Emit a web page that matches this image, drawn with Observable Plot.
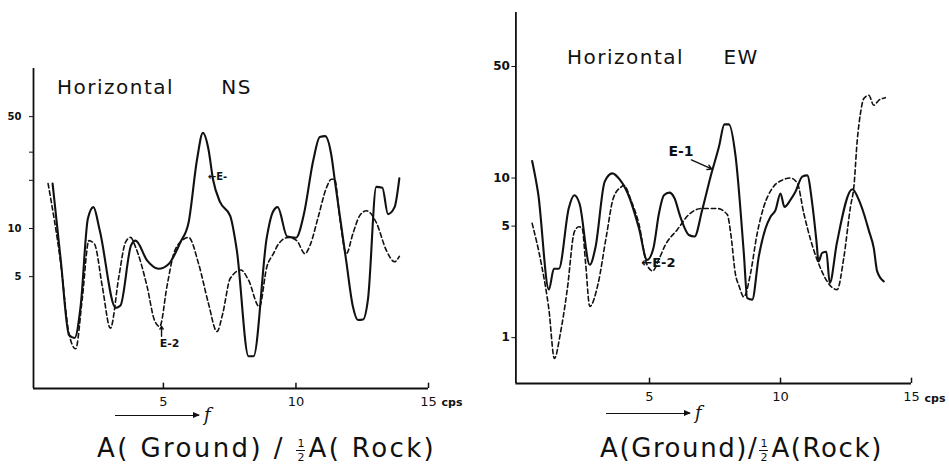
<!DOCTYPE html>
<html>
<head>
<meta charset="utf-8">
<script src="https://cdn.jsdelivr.net/npm/d3@7"></script>
<script src="https://cdn.jsdelivr.net/npm/@observablehq/plot@0.6"></script>
<style>
  html, body { margin: 0; padding: 0; background: #fff; }
  #wrap { position: relative; width: 949px; height: 468px; background: #fff; overflow: hidden;
          font-family: "DejaVu Sans", sans-serif; color: #111; }
  .panel { position: absolute; top: 0; }
  .title { position: absolute; font-size: 20px; letter-spacing: 1.5px; line-height: 20px; white-space: pre; }
  .cap { position: absolute; font-size: 26px; line-height: 26px; white-space: pre; }
  .frac { display: inline-flex; flex-direction: column; align-items: center; font-size: 11px; line-height: 13px;
          vertical-align: 10px; margin: 0 3px 0 1px; letter-spacing: 0; }
  .frac span { display: block; }
  .frac span:first-child { border-bottom: 1.5px solid #111; padding: 0 1px; }
  .farrow { position: absolute; font-size: 16px; line-height: 16px; white-space: pre; }
  .farrow i { display: inline-block; width: 84px; height: 0; border-top: 1.5px solid #111; vertical-align: 5px; position: relative; }
  .farrow i::after { content: ""; position: absolute; right: -1px; top: -4.5px; border-left: 7px solid #111;
          border-top: 3.5px solid transparent; border-bottom: 3.5px solid transparent; }
  .farrow em { font-style: italic; font-family: "DejaVu Serif", serif; font-size: 18px; }
</style>
</head>
<body>
<div id="wrap">
  <div class="title" style="left:57px; top:77px;">Horizontal      NS</div>
  <div class="title" style="left:567px; top:47px;">Horizontal     EW</div>
  <div class="farrow" style="left:115px; top:407px;"><i></i> <em>f</em></div>
  <div class="farrow" style="left:606px; top:405px;"><i></i> <em>f</em></div>
  <div class="cap" style="left:97px; top:435px; letter-spacing:2.4px;">A( Ground) / <span class="frac"><span>1</span><span>2</span></span>A( Rock)</div>
  <div class="cap" style="left:600px; top:435px; letter-spacing:1.6px;">A(Ground)/<span class="frac"><span>1</span><span>2</span></span>A(Rock)</div>
</div>
<script>
// ---------- data ----------
const xTicks = [5, 10, 15];
const nsYTicks = [5, 10, 50];
const nsYMinor = [20, 30];
const ewYTicks = [1, 5, 10, 50];

// Horizontal NS, E-1 (solid)
const nsE1F = [0.82,1.13,1.44,1.65,1.88,2.15,2.36,2.6,3.2,3.38,3.78,3.95,4.39,4.82,5.2,5.64,5.95,6.27,6.49,6.7,6.87,7.14,7.52,7.77,8.21,8.4,8.9,9.12,9.31,9.67,10.0,10.3,10.65,10.9,11.1,11.34,11.46,11.9,12.15,12.34,12.53,12.72,13.03,13.26,13.47,13.72,13.9];
const nsE1V = [19.1,6.3,2.16,2.07,3.3,11.5,13.6,9.7,3.19,3.3,7.84,8.4,6.3,5.6,6.0,8.2,10.9,27.1,39.6,31.3,20.3,14.6,12.0,7.3,1.59,1.59,8.8,12.6,13.6,8.9,8.75,12.3,26.5,37.3,37.8,28.4,20.3,6.2,3.24,2.68,2.7,3.65,18.2,18,12.3,13.6,20.6];
// Horizontal NS, E-2 (dashed)
const nsE2F = [0.65,1.13,1.44,1.69,1.94,2.19,2.4,2.7,3.0,3.32,3.57,3.76,3.95,4.39,4.66,4.86,5.14,5.39,5.7,5.95,6.33,6.7,7.02,7.24,7.52,7.92,8.21,8.62,8.9,9.15,9.34,9.71,10.03,10.34,10.53,10.84,11.13,11.34,11.46,11.65,11.9,12.15,12.4,12.66,13.03,13.41,13.72,13.9];
const nsE2V = [19.1,6.0,2.2,1.77,3.65,8.4,8.0,4.3,2.38,5.0,8.2,8.8,7.65,4.3,2.68,2.44,4.4,6.96,8.4,8.8,6.0,3.4,2.27,2.95,4.87,5.5,4.76,3.24,5.75,6.96,8.0,8.8,8.4,6.96,7.84,11.8,17.6,20.3,20.3,11.8,6.96,9.3,12.0,12.9,10.9,7.3,6.2,6.7];

// Horizontal EW, E-1 (solid)
const ewE1F = [0.52,0.75,1.16,1.35,1.54,1.92,2.13,2.33,2.72,2.94,3.29,3.58,3.86,4.24,4.59,4.91,5.15,5.36,5.55,5.76,5.95,6.18,6.5,6.72,7.01,7.33,7.65,7.86,8.03,8.28,8.6,8.73,8.92,9.17,9.43,9.62,9.81,10.0,10.15,10.38,10.57,10.83,11.02,11.21,11.38,11.45,11.59,11.75,11.88,12.15,12.74,12.99,13.18,13.37,13.56,13.69,13.94];
const ewE1V = [12.8,8.0,2.0,2.7,2.7,6.5,7.8,6.9,2.86,3.7,9.5,10.7,9.8,7.5,4.9,3.07,3.65,6.0,7.8,8.1,7.5,5.7,4.4,4.3,6.3,10.2,15.7,21.7,21.7,13.9,3.38,1.77,1.73,3.22,4.85,5.73,6.3,8.0,6.6,7.3,8.2,10.2,10.4,6.95,3.9,3.0,3.4,3.45,2.2,3.9,8.5,7.3,6.0,4.7,3.64,2.6,2.25];
// Horizontal EW, E-2 (dashed)
const ewE2F = [0.52,0.87,1.16,1.37,1.6,1.86,2.13,2.3,2.43,2.56,2.72,3.03,3.35,3.62,3.92,4.02,4.3,4.59,4.91,5.12,5.36,5.6,6.06,6.5,7.01,7.58,7.97,8.1,8.28,8.42,8.6,8.85,9.11,9.36,9.68,10.06,10.38,10.64,10.89,11.15,11.4,12.16,12.42,12.67,12.8,12.93,13.05,13.18,13.37,13.56,13.75,14.0];
const ewE2V = [5.2,2.9,1.5,0.74,1.07,2.0,4.6,4.95,4.85,2.93,1.57,2.15,4.3,7.5,8.8,9.0,7.2,5.2,2.85,2.62,3.1,3.8,4.75,5.9,6.45,6.45,5.9,4.5,2.5,2.1,1.8,2.5,4.5,6.6,8.6,9.7,10.0,9.3,6.0,4.1,3.07,2.0,3.2,6.6,8.8,17.3,25.3,31.5,33,28.6,30.7,31.9];

// annotations (label, frequency, amplitude ratio)
const nsNoteText = ["←E-", "E-2"];
const nsNoteF = [7.04, 5.23];
const nsNoteV = [21.1, 1.91];
const nsArrowF = [4.93, 4.93];
const nsArrowV = [2.12, 2.45];
const ewNoteText = ["E-1", "←E-2"];
const ewNoteF = [6.2, 5.34];
const ewNoteV = [14.6, 2.94];
const ewArrowF = [6.6, 7.37];
const ewArrowV = [13.0, 11.4];

// ---------- build ----------
const zip = (F, V) => F.map((f, i) => ({f, v: V[i]}));
const notes = (T, F, V) => T.map((t, i) => ({t, f: F[i], v: V[i]}));
const ink = "#111";

function panel({width, height, mL, mR, mT, mB, xDom, yDom, yTicks, yMinor, e1, e2, note, noteSizes, arrow, yFont, yPad, xFont, cpsDy}) {
  const marks = [
    Plot.ruleX([xDom[0]], {stroke: ink, strokeWidth: 1.8}),
    Plot.ruleY([yDom[0]], {stroke: ink, strokeWidth: 1.8}),
    Plot.ruleX(xTicks, {y1: yDom[0], y2: yDom[0] * 1.08, stroke: ink, strokeWidth: 1.5}),
    Plot.axisX(xTicks, {tickSize: 0, tickPadding: 8, fontSize: xFont, tickFormat: d => String(d)}),
    Plot.text([{f: 15, v: yDom[0]}], {x: "f", y: "v", text: () => "cps", dx: 13, dy: cpsDy, textAnchor: "start", fontSize: 11, fontWeight: "bold"}),
    Plot.axisY(yTicks.concat(yMinor || []), {tickSize: 4, tickFormat: () => ""}),
    Plot.text(yTicks.map(v => ({v})), {y: "v", frameAnchor: "left", text: d => String(d.v), textAnchor: "end", dx: -(4 + yPad), fontSize: yFont, fontWeight: "bold", fill: ink}),
    Plot.line(e2, {x: "f", y: "v", stroke: ink, strokeWidth: 1.6, strokeDasharray: "4.5,3", curve: "monotone-x"}),
    Plot.line(e1, {x: "f", y: "v", stroke: ink, strokeWidth: 2.1, curve: "monotone-x"}),
    Plot.text(note, {x: "f", y: "v", text: "t", fontSize: (d, i) => noteSizes[i], textAnchor: (d) => d.t.startsWith("←") ? "start" : "middle", fill: ink, fontWeight: "bold"}),
    Plot.arrow([arrow], {x1: "x1", y1: "y1", x2: "x2", y2: "y2", stroke: ink, strokeWidth: 1.4, headLength: 5, bend: 0})
  ];
  return Plot.plot({
    width, height, marginLeft: mL, marginRight: mR, marginTop: mT, marginBottom: mB,
    style: {fontFamily: "DejaVu Sans, sans-serif", color: ink, background: "transparent", overflow: "visible"},
    x: {domain: xDom, label: null},
    y: {type: "log", domain: yDom, label: null},
    marks
  });
}

const left = panel({
  width: 475, height: 405, mL: 33, mR: 47, mT: 68, mB: 17,
  xDom: [0.1, 15], yDom: [1, 100], yTicks: nsYTicks, yMinor: nsYMinor,
  e1: zip(nsE1F, nsE1V), e2: zip(nsE2F, nsE2V),
  note: notes(nsNoteText, nsNoteF, nsNoteV), noteSizes: [10, 11],
  arrow: {x1: nsArrowF[0], y1: nsArrowV[0], x2: nsArrowF[1], y2: nsArrowV[1]},
  yFont: 10, yPad: 8, xFont: 13, cpsDy: 14
});
const right = panel({
  width: 479, height: 400, mL: 45.4, mR: 38, mT: 12, mB: 17,
  xDom: [-0.1, 15], yDom: [0.516, 109], yTicks: ewYTicks, yMinor: null,
  e1: zip(ewE1F, ewE1V), e2: zip(ewE2F, ewE2V),
  note: notes(ewNoteText, ewNoteF, ewNoteV), noteSizes: [14, 13],
  arrow: {x1: ewArrowF[0], y1: ewArrowV[0], x2: ewArrowF[1], y2: ewArrowV[1]},
  yFont: 12, yPad: 2, xFont: 13, cpsDy: 15
});
left.classList.add("panel"); left.style.left = "0px";
right.classList.add("panel"); right.style.left = "470px";
const wrap = document.getElementById("wrap");
wrap.insertBefore(right, wrap.firstChild);
wrap.insertBefore(left, wrap.firstChild);
</script>
</body>
</html>
